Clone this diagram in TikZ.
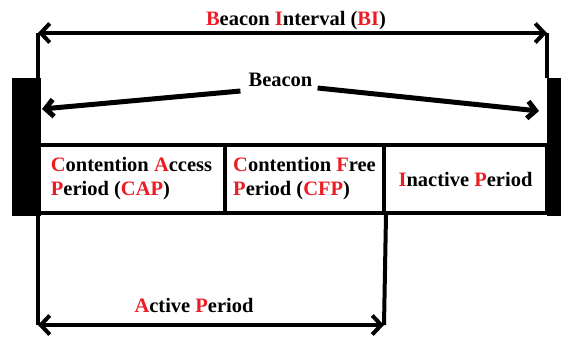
\documentclass[tikz,border=0pt]{standalone}
\usepackage{fontspec}
\setmainfont{Liberation Serif}
\usetikzlibrary{arrows.meta}
\definecolor{hl}{RGB}{235,28,36}
\newcommand\rl[1]{\textcolor{hl}{#1}}
\begin{document}
\begin{tikzpicture}[x=1pt,y=-1pt,
  lbl/.style={font=\bfseries\fontsize{20.5}{24}\selectfont, inner sep=0pt},
  cell/.style={draw, line width=4pt, rectangle, inner sep=0pt, align=left,
    minimum height=68pt, font=\bfseries\fontsize{20.5}{24}\selectfont},
  thick line/.style={line width=4pt},
  arr/.style={line width=4pt, {Straight Barb[length=9pt,width=19pt]}-{Straight Barb[length=9pt,width=19pt]}},
  barr/.style={line width=5pt, -{Straight Barb[length=8pt,width=17pt]}}]
\useasboundingbox (0,0) rectangle (561,338);
% black beacon bars
\fill (12,78) rectangle (41,216);
\fill (547,78) rectangle (561,216);
% cells
\node[cell, minimum width=187pt] (cap) at (131.5,179) {\rl{C}ontention \rl{A}ccess\\\rl{P}eriod (\rl{CAP})};
\node[cell, minimum width=159pt] (cfp) at (304.5,179) {\rl{C}ontention \rl{F}ree\\\rl{P}eriod (\rl{CFP})};
\node[cell, minimum width=163pt] (inact) at (465.5,179) {\rl{I}nactive \rl{P}eriod};
% coordinates
\coordinate (tl) at (38,33);
\coordinate (tr) at (547,33);
\coordinate (rb) at (547,78);
\coordinate (bl) at (38,325);
\coordinate (br) at (384,325);
\coordinate (bcL) at (42,109);
\coordinate (bcR) at (539,111);
% labels
\node[lbl, anchor=base] (bi) at (296,25) {\rl{B}eacon \rl{I}nterval (\rl{BI})};
\node[lbl, anchor=base] (beacon) at (280.5,86) {Beacon};
\node[lbl, anchor=base] (act) at (194,312) {\rl{A}ctive \rl{P}eriod};
% lines
\draw[thick line] (tl) -- (bl);
\draw[thick line] (tr) -- (rb);
\draw[thick line] (cfp.south east) -- (br);
\draw[arr] (tl) -- (tr);
\draw[arr] (bl) -- (br);
\draw[barr] ([xshift=-8pt,yshift=-5pt]beacon.base west) -- (bcL);
\draw[barr] ([xshift=5pt,yshift=-2pt]beacon.base east) -- (bcR);
\end{tikzpicture}
\end{document}
